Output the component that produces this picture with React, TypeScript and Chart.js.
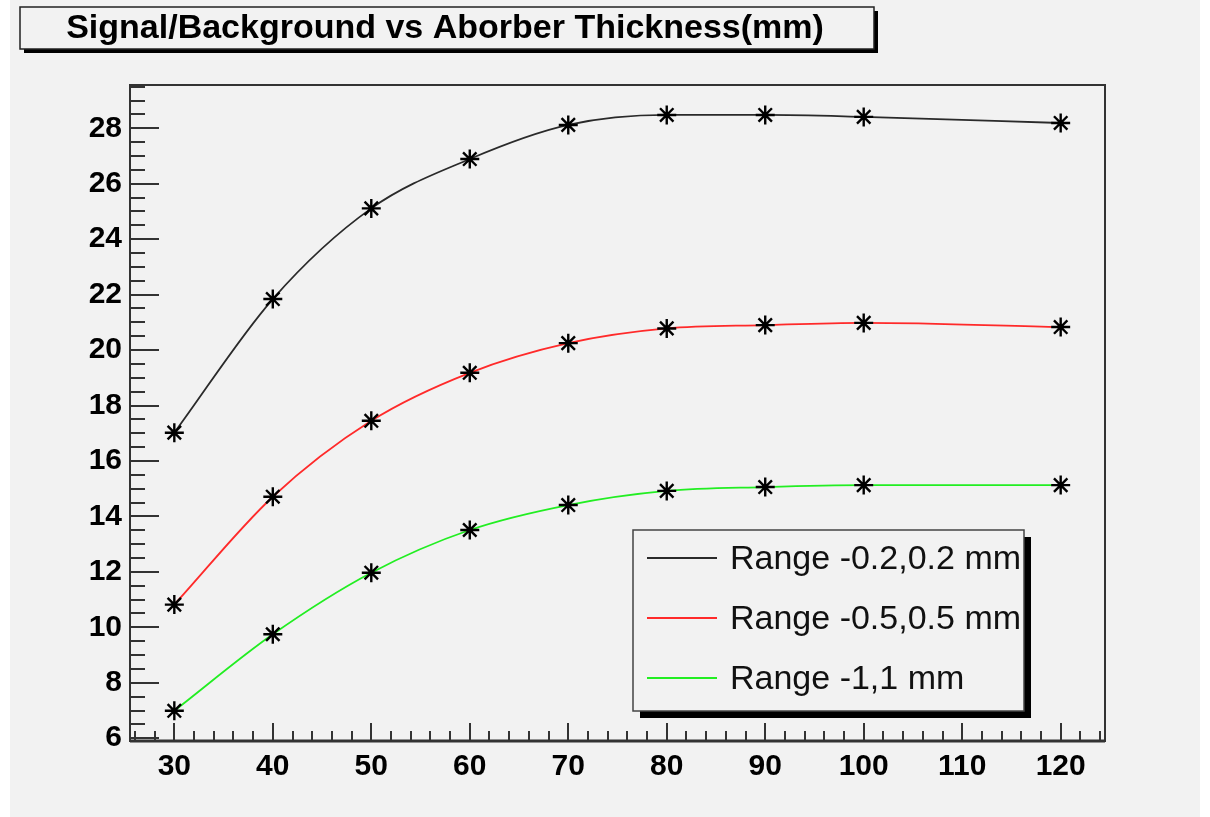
import React, { useEffect, useRef } from 'react';
import { Chart, registerables } from 'chart.js';

Chart.register(...registerables);

const thickness = [30, 40, 50, 60, 70, 80, 90, 100, 120];
const range02 = [17.02, 21.84, 25.11, 26.89, 28.12, 28.48, 28.48, 28.41, 28.19];
const range05 = [10.82, 14.71, 17.45, 19.18, 20.25, 20.78, 20.9, 20.98, 20.83];
const range1 = [6.99, 9.75, 11.97, 13.51, 14.41, 14.92, 15.06, 15.13, 15.13];
const seriesLabels = ['Range -0.2,0.2 mm', 'Range -0.5,0.5 mm', 'Range -1,1 mm'];
const seriesColors = ['#2a2a2a', '#ff2a2a', '#22ee22'];
const xTicks = [30, 40, 50, 60, 70, 80, 90, 100, 110, 120];
const yTicks = [6, 8, 10, 12, 14, 16, 18, 20, 22, 24, 26, 28];
const chartTitle = 'Signal/Background vs Aborber Thickness(mm)';

const FONT = "'Liberation Sans', Arial, Helvetica, sans-serif";
const BG = '#f2f2f2';
const FRAME = '#333333';

const rootPlugin = {
  id: 'rootStyle',
  beforeDraw(chart: any) {
    const { ctx, width, height } = chart;
    ctx.save();
    ctx.fillStyle = '#ffffff';
    ctx.fillRect(0, 0, width, height);
    ctx.fillStyle = BG;
    ctx.fillRect(10, 0, 1190, height);
    ctx.restore();
  },
  afterDatasetsDraw(chart: any) {
    const { ctx, chartArea } = chart;
    const xs = chart.scales.x;
    const ys = chart.scales.y;
    const { left, right, top, bottom } = chartArea;
    ctx.save();
    ctx.strokeStyle = FRAME;
    ctx.lineWidth = 2;
    ctx.strokeRect(left, top, right - left, bottom - top);
    ctx.lineWidth = 3;
    ctx.beginPath();
    ctx.moveTo(left, bottom);
    ctx.lineTo(right, bottom);
    ctx.stroke();
    ctx.lineWidth = 2;
    ctx.beginPath();
    for (let v = 6; v <= ys.max + 1e-9; v += 0.5) {
      if (v < ys.min) continue;
      const py = Math.round(ys.getPixelForValue(v));
      const major = Math.abs(v / 2 - Math.round(v / 2)) < 1e-6;
      const len = major ? 29 : 15;
      ctx.moveTo(left, py);
      ctx.lineTo(left + len, py);
    }
    ctx.stroke();
    ctx.beginPath();
    for (let v = 26; v <= xs.max + 1e-9; v += 2) {
      if (v < xs.min) continue;
      const px = Math.round(xs.getPixelForValue(v));
      const major = v % 10 === 0;
      const len = major ? 18 : 10;
      ctx.moveTo(px, bottom);
      ctx.lineTo(px, bottom - len);
    }
    ctx.stroke();
    ctx.restore();
  },
  afterDraw(chart: any) {
    const { ctx } = chart;
    ctx.save();
    const tx = 20, ty = 7, tw = 854, th = 42;
    ctx.fillStyle = '#000';
    ctx.fillRect(tx + 4, ty + 4, tw, th);
    ctx.fillStyle = BG;
    ctx.fillRect(tx, ty, tw, th);
    ctx.strokeStyle = '#222';
    ctx.lineWidth = 1.5;
    ctx.strokeRect(tx, ty, tw, th);
    ctx.fillStyle = '#000';
    ctx.font = `bold 34px ${FONT}`;
    ctx.textAlign = 'center';
    ctx.textBaseline = 'middle';
    ctx.fillText(chartTitle, tx + tw / 2 - 2, ty + th / 2 + 1);

    const lx = 633, ly = 530, lw = 391, lh = 181;
    ctx.fillStyle = '#000';
    ctx.fillRect(lx + 7, ly + 7, lw, lh);
    ctx.fillStyle = BG;
    ctx.fillRect(lx, ly, lw, lh);
    ctx.strokeStyle = '#444';
    ctx.lineWidth = 1.5;
    ctx.strokeRect(lx, ly, lw, lh);
    ctx.font = `34px ${FONT}`;
    ctx.textAlign = 'left';
    ctx.textBaseline = 'middle';
    chart.data.datasets.forEach((ds: any, i: number) => {
      const cy = ly + 28 + i * 60;
      ctx.strokeStyle = ds.borderColor;
      ctx.lineWidth = 2;
      ctx.beginPath();
      ctx.moveTo(lx + 14, cy);
      ctx.lineTo(lx + 84, cy);
      ctx.stroke();
      ctx.fillStyle = '#111';
      ctx.fillText(ds.label, lx + 97, cy + 2);
    });
    ctx.restore();
  },
};

function makeDataset(label: string, values: number[], color: string) {
  return {
    label,
    data: thickness.map((x, i) => ({ x, y: values[i] })),
    showLine: true,
    borderColor: color,
    backgroundColor: color,
    borderWidth: 1.8,
    cubicInterpolationMode: 'monotone' as const,
    pointStyle: 'star' as const,
    pointRadius: 9.5,
    pointBorderColor: '#000',
    pointBackgroundColor: '#000',
    pointBorderWidth: 2.4,
  };
}

export default function App() {
  const ref = useRef<HTMLCanvasElement | null>(null);
  useEffect(() => {
    if (!ref.current) return;
    const tickFont = { family: FONT, size: 30, weight: 'bold' as const };
    const chart = new Chart(ref.current, {
      type: 'scatter',
      data: {
        datasets: [
          makeDataset(seriesLabels[0], range02, seriesColors[0]),
          makeDataset(seriesLabels[1], range05, seriesColors[1]),
          makeDataset(seriesLabels[2], range1, seriesColors[2]),
        ],
      },
      options: {
        responsive: false,
        animation: false,
        events: [],
        layout: { padding: { left: 0, top: 85, right: 105, bottom: 0 } },
        plugins: {
          legend: { display: false },
          title: { display: false },
          tooltip: { enabled: false },
        },
        scales: {
          x: {
            type: 'linear',
            min: 25.5,
            max: 124.5,
            afterBuildTicks: (s: any) => {
              s.ticks = xTicks.map((v) => ({ value: v }));
            },
            afterFit: (s: any) => {
              s.height = 76;
            },
            grid: { display: false, drawTicks: false },
            border: { display: false },
            ticks: {
              color: '#000',
              font: tickFont,
              padding: 8,
              maxRotation: 0,
              autoSkip: false,
            },
          },
          y: {
            type: 'linear',
            min: 5.9,
            max: 29.56,
            afterBuildTicks: (s: any) => {
              s.ticks = yTicks.map((v) => ({ value: v }));
            },
            afterFit: (s: any) => {
              s.width = 130;
            },
            grid: { display: false, drawTicks: false },
            border: { display: false },
            ticks: {
              color: '#000',
              font: tickFont,
              padding: 8,
              autoSkip: false,
            },
          },
        },
      },
      plugins: [rootPlugin],
    });
    return () => chart.destroy();
  }, []);
  return (
    <div style={{ position: 'absolute', left: 0, top: 0, width: 1210, height: 817 }}>
      <canvas ref={ref} width={1210} height={817} style={{ display: 'block' }} />
    </div>
  );
}
